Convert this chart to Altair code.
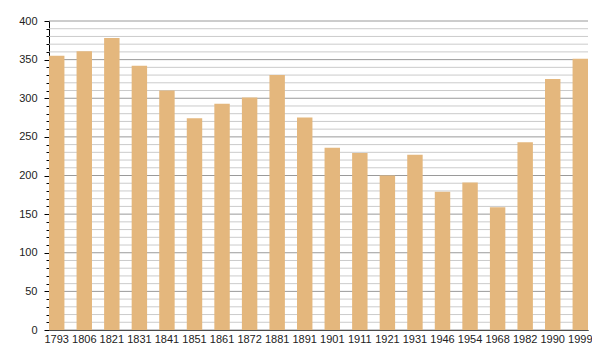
import altair as alt
import pandas as pd

years = ["1793", "1806", "1821", "1831", "1841", "1851", "1861", "1872", "1881", "1891",
         "1901", "1911", "1921", "1931", "1946", "1954", "1968", "1982", "1990", "1999"]
population = [355, 361, 378, 342, 310, 274, 293, 301, 330, 275,
              236, 229, 200, 227, 179, 191, 159, 243, 325, 351]

major_ticks = [0, 50, 100, 150, 200, 250, 300, 350, 400]
minor_ticks = [v for v in range(0, 401, 10)]

df = pd.DataFrame({"year": years, "pop": population})
df_major = pd.DataFrame({"v": major_ticks})
df_minor = pd.DataFrame({"v": [v for v in minor_ticks if v % 50 != 0]})

FONT = "Liberation Sans"
yscale = alt.Scale(domain=[0, 400], nice=False, zero=True)

minor = alt.Chart(df_minor).mark_rule(color="#cbcbcb", strokeWidth=1).encode(
    y=alt.Y("v:Q", scale=yscale,
            axis=alt.Axis(orient="left", values=minor_ticks, tickSize=3, labels=False,
                          domain=False, grid=False, title=None, tickColor="#000"))
)
major = alt.Chart(df_major).mark_rule(color="#9a9a9a", strokeWidth=1).encode(
    y=alt.Y("v:Q", scale=yscale,
            axis=alt.Axis(orient="left", values=major_ticks, tickSize=5, labelPadding=7,
                          domain=True, domainColor="#000", tickColor="#000", grid=False,
                          title=None, labelFont=FONT, labelFontSize=11, labelColor="#222"))
)
bars = alt.Chart(df).mark_bar(color="#E4B77D").encode(
    x=alt.X("year:N", sort=None,
            scale=alt.Scale(paddingInner=0.44, paddingOuter=0),
            axis=alt.Axis(title=None, labelAngle=0, tickSize=0, labelPadding=3,
                          domainColor="#000", labelFont=FONT, labelFontSize=11,
                          labelColor="#222")),
    y=alt.Y("pop:Q", scale=yscale, axis=None),
)

chart = alt.layer(minor, major, bars).resolve_axis(y="independent").properties(
    width=539, height=309,
    autosize=alt.AutoSizeParams(type="none"),
    padding={"left": 41, "top": 13, "right": 4, "bottom": 30},
).configure_view(stroke=None).configure_axis(grid=False)

chart.save("out.html", embed_options={"renderer": "svg", "actions": False})
